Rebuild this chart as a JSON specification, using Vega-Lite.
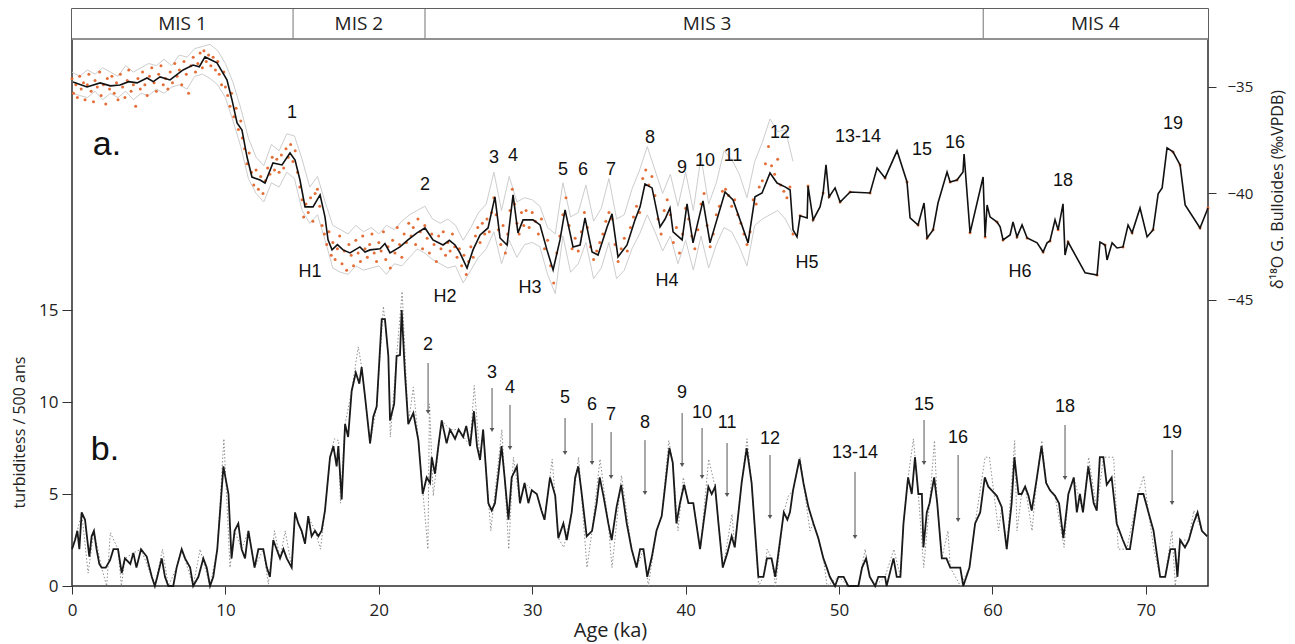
{
"$schema": "https://vega.github.io/schema/vega-lite/v6.json",
"width": 1136, "height": 577,
"autosize": {"type": "none"},
"padding": {"left": 72, "top": 9, "right": 87, "bottom": 58},
"background": "white",
"config": {
 "view": {"stroke": "#2b2b2b", "strokeWidth": 1.5},
 "axis": {"labelFont": "Open Sans", "titleFont": "Open Sans", "titleFontWeight": "normal", "labelColor": "#222", "titleColor": "#222", "tickColor": "#333", "domain": false, "grid": false},
 "text": {"font": "Liberation Sans", "color": "#111"}
},
"datasets": {
 "d18o": [
{"age":0.07,"d18o":-34.77},{"age":0.98,"d18o":-35.0},{"age":1.83,"d18o":-34.81},{"age":2.5,"d18o":-34.95},{"age":3.13,"d18o":-34.91},{"age":3.7,"d18o":-34.75},{"age":4.24,"d18o":-34.81},{"age":4.89,"d18o":-34.58},{"age":5.3,"d18o":-34.75},{"age":5.74,"d18o":-34.53},{"age":6.39,"d18o":-34.67},{"age":7.24,"d18o":-34.2},{"age":7.89,"d18o":-33.97},{"age":8.3,"d18o":-34.05},{"age":8.67,"d18o":-33.59},{"age":9.45,"d18o":-33.87},{"age":10.1,"d18o":-34.67},{"age":10.43,"d18o":-35.61},{"age":10.76,"d18o":-36.69},{"age":11.08,"d18o":-37.02},{"age":11.41,"d18o":-38.29},{"age":11.73,"d18o":-39.23},{"age":12.26,"d18o":-39.37},{"age":12.58,"d18o":-39.51},{"age":13.1,"d18o":-38.57},{"age":13.69,"d18o":-38.66},{"age":14.21,"d18o":-38.1},{"age":14.54,"d18o":-38.43},{"age":14.86,"d18o":-39.37},{"age":15.19,"d18o":-40.63},{"age":15.71,"d18o":-40.63},{"age":16.17,"d18o":-40.07},{"age":16.49,"d18o":-41.1},{"age":16.69,"d18o":-42.18},{"age":16.95,"d18o":-42.65},{"age":17.3,"d18o":-42.4},{"age":17.67,"d18o":-42.65},{"age":18.12,"d18o":-42.79},{"age":18.77,"d18o":-42.51},{"age":19.1,"d18o":-42.75},{"age":19.43,"d18o":-42.65},{"age":20.08,"d18o":-42.6},{"age":20.4,"d18o":-42.35},{"age":20.73,"d18o":-42.79},{"age":21.38,"d18o":-42.51},{"age":21.9,"d18o":-42.18},{"age":22.49,"d18o":-41.85},{"age":23.01,"d18o":-41.62},{"age":23.53,"d18o":-42.18},{"age":24.19,"d18o":-42.42},{"age":24.6,"d18o":-42.2},{"age":24.97,"d18o":-42.42},{"age":25.29,"d18o":-42.79},{"age":25.75,"d18o":-43.5},{"age":26.14,"d18o":-42.65},{"age":26.6,"d18o":-41.95},{"age":27.12,"d18o":-41.62},{"age":27.57,"d18o":-40.16},{"age":27.9,"d18o":-42.09},{"age":28.36,"d18o":-42.42},{"age":28.75,"d18o":-40.07},{"age":29.07,"d18o":-41.85},{"age":29.4,"d18o":-41.24},{"age":30.05,"d18o":-41.24},{"age":30.51,"d18o":-41.48},{"age":30.96,"d18o":-42.65},{"age":31.36,"d18o":-43.59},{"age":31.81,"d18o":-42.18},{"age":32.14,"d18o":-40.77},{"age":32.66,"d18o":-42.51},{"age":33.12,"d18o":-42.42},{"age":33.44,"d18o":-41.15},{"age":33.9,"d18o":-42.75},{"age":34.29,"d18o":-42.89},{"age":34.88,"d18o":-41.57},{"age":35.2,"d18o":-40.96},{"age":35.59,"d18o":-42.98},{"age":36.18,"d18o":-42.42},{"age":36.7,"d18o":-41.24},{"age":37.03,"d18o":-40.63},{"age":37.35,"d18o":-39.56},{"age":37.81,"d18o":-39.74},{"age":38.33,"d18o":-41.57},{"age":38.66,"d18o":-41.2},{"age":38.98,"d18o":-40.68},{"age":39.18,"d18o":-41.8},{"age":39.77,"d18o":-42.18},{"age":40.09,"d18o":-40.49},{"age":40.48,"d18o":-42.32},{"age":41.13,"d18o":-40.35},{"age":41.59,"d18o":-42.32},{"age":42.57,"d18o":-39.93},{"age":43.09,"d18o":-40.31},{"age":44.07,"d18o":-42.32},{"age":44.52,"d18o":-40.16},{"age":44.98,"d18o":-39.98},{"age":45.5,"d18o":-39.04},{"age":45.96,"d18o":-39.51},{"age":46.48,"d18o":-39.69},{"age":46.81,"d18o":-39.84},{"age":47.0,"d18o":-41.71},{"age":47.26,"d18o":-42.04},{"age":47.46,"d18o":-41.05},{"age":47.92,"d18o":-41.15},{"age":47.98,"d18o":-39.65},{"age":48.31,"d18o":-41.24},{"age":48.76,"d18o":-40.63},{"age":48.96,"d18o":-39.98},{"age":49.15,"d18o":-38.66},{"age":49.35,"d18o":-40.16},{"age":49.74,"d18o":-39.74},{"age":50.07,"d18o":-40.4},{"age":50.72,"d18o":-39.93},{"age":52.02,"d18o":-39.98},{"age":52.48,"d18o":-38.8},{"age":53.0,"d18o":-39.27},{"age":53.78,"d18o":-38.0},{"age":54.43,"d18o":-39.46},{"age":54.63,"d18o":-41.15},{"age":55.15,"d18o":-41.48},{"age":55.54,"d18o":-40.45},{"age":55.74,"d18o":-42.09},{"age":56.13,"d18o":-41.71},{"age":56.45,"d18o":-40.45},{"age":57.04,"d18o":-38.99},{"age":57.24,"d18o":-39.46},{"age":57.69,"d18o":-39.37},{"age":58.08,"d18o":-38.99},{"age":58.15,"d18o":-38.15},{"age":58.54,"d18o":-41.85},{"age":59.39,"d18o":-39.23},{"age":59.52,"d18o":-42.04},{"age":59.65,"d18o":-40.54},{"age":59.84,"d18o":-41.1},{"age":60.3,"d18o":-41.34},{"age":60.5,"d18o":-41.57},{"age":60.69,"d18o":-42.18},{"age":61.15,"d18o":-41.95},{"age":61.34,"d18o":-41.34},{"age":61.6,"d18o":-42.04},{"age":61.93,"d18o":-41.48},{"age":62.26,"d18o":-42.09},{"age":62.91,"d18o":-42.32},{"age":63.3,"d18o":-42.75},{"age":63.56,"d18o":-42.32},{"age":63.75,"d18o":-42.23},{"age":64.08,"d18o":-41.24},{"age":64.28,"d18o":-41.71},{"age":64.6,"d18o":-40.49},{"age":64.73,"d18o":-42.89},{"age":64.93,"d18o":-42.28},{"age":66.04,"d18o":-43.73},{"age":66.82,"d18o":-43.83},{"age":67.01,"d18o":-42.28},{"age":67.34,"d18o":-42.42},{"age":67.47,"d18o":-43.12},{"age":67.8,"d18o":-42.32},{"age":68.12,"d18o":-42.56},{"age":68.51,"d18o":-42.51},{"age":68.84,"d18o":-41.48},{"age":69.1,"d18o":-41.85},{"age":69.62,"d18o":-40.68},{"age":70.08,"d18o":-42.04},{"age":70.47,"d18o":-41.71},{"age":70.8,"d18o":-40.02},{"age":71.06,"d18o":-39.74},{"age":71.38,"d18o":-37.86},{"age":71.77,"d18o":-38.05},{"age":72.23,"d18o":-38.66},{"age":72.56,"d18o":-40.54},{"age":73.53,"d18o":-41.62},{"age":74.05,"d18o":-40.68}
 ],
 "dots": [
{"age":0.0,"d18o":-34.6},{"age":0.1,"d18o":-35.3},{"age":0.25,"d18o":-34.9},{"age":0.35,"d18o":-35.5},{"age":0.5,"d18o":-34.5},{"age":0.6,"d18o":-35.1},{"age":0.75,"d18o":-34.8},{"age":0.85,"d18o":-35.6},{"age":1.0,"d18o":-34.9},{"age":1.1,"d18o":-34.4},{"age":1.25,"d18o":-35.2},{"age":1.4,"d18o":-35.7},{"age":1.5,"d18o":-34.7},{"age":1.65,"d18o":-35.0},{"age":1.8,"d18o":-34.3},{"age":1.9,"d18o":-35.4},{"age":2.05,"d18o":-34.9},{"age":2.2,"d18o":-35.8},{"age":2.3,"d18o":-34.6},{"age":2.45,"d18o":-35.1},{"age":2.6,"d18o":-34.5},{"age":2.75,"d18o":-35.3},{"age":2.9,"d18o":-34.8},{"age":3.0,"d18o":-35.6},{"age":3.15,"d18o":-34.4},{"age":3.3,"d18o":-35.0},{"age":3.45,"d18o":-35.5},{"age":3.6,"d18o":-34.7},{"age":3.7,"d18o":-34.2},{"age":3.85,"d18o":-35.2},{"age":4.0,"d18o":-34.9},{"age":4.15,"d18o":-35.9},{"age":4.3,"d18o":-34.6},{"age":4.45,"d18o":-35.1},{"age":4.6,"d18o":-34.3},{"age":4.75,"d18o":-34.9},{"age":4.9,"d18o":-35.4},{"age":5.05,"d18o":-34.5},{"age":5.2,"d18o":-34.1},{"age":5.35,"d18o":-34.8},{"age":5.5,"d18o":-35.2},{"age":5.65,"d18o":-34.4},{"age":5.8,"d18o":-34.0},{"age":5.95,"d18o":-34.9},{"age":6.1,"d18o":-34.6},{"age":6.25,"d18o":-35.1},{"age":6.4,"d18o":-34.3},{"age":6.55,"d18o":-34.8},{"age":6.7,"d18o":-33.9},{"age":6.85,"d18o":-34.5},{"age":7.0,"d18o":-34.2},{"age":7.15,"d18o":-34.9},{"age":7.3,"d18o":-33.8},{"age":7.45,"d18o":-34.4},{"age":7.6,"d18o":-35.3},{"age":7.75,"d18o":-34.0},{"age":7.9,"d18o":-33.6},{"age":8.05,"d18o":-34.3},{"age":8.2,"d18o":-33.9},{"age":8.35,"d18o":-33.4},{"age":8.5,"d18o":-34.1},{"age":8.6,"d18o":-33.3},{"age":8.75,"d18o":-33.8},{"age":8.9,"d18o":-33.5},{"age":9.05,"d18o":-34.0},{"age":9.2,"d18o":-33.6},{"age":9.35,"d18o":-34.2},{"age":9.5,"d18o":-33.8},{"age":9.6,"d18o":-34.4},{"age":9.75,"d18o":-34.9},{"age":9.9,"d18o":-34.3},{"age":10.0,"d18o":-35.0},{"age":10.15,"d18o":-35.4},{"age":10.3,"d18o":-35.9},{"age":10.4,"d18o":-35.3},{"age":10.55,"d18o":-36.4},{"age":10.7,"d18o":-36.0},{"age":10.85,"d18o":-37.0},{"age":11.0,"d18o":-36.6},{"age":11.1,"d18o":-37.4},{"age":11.25,"d18o":-37.9},{"age":11.4,"d18o":-38.6},{"age":11.55,"d18o":-38.1},{"age":11.7,"d18o":-39.0},{"age":11.85,"d18o":-39.6},{"age":12.0,"d18o":-38.9},{"age":12.15,"d18o":-39.8},{"age":12.3,"d18o":-39.2},{"age":12.45,"d18o":-40.0},{"age":12.6,"d18o":-39.4},{"age":12.75,"d18o":-38.8},{"age":12.9,"d18o":-39.1},{"age":13.05,"d18o":-38.3},{"age":13.2,"d18o":-38.9},{"age":13.35,"d18o":-38.4},{"age":13.5,"d18o":-39.0},{"age":13.65,"d18o":-38.2},{"age":13.8,"d18o":-38.8},{"age":13.95,"d18o":-37.9},{"age":14.1,"d18o":-38.3},{"age":14.25,"d18o":-37.7},{"age":14.4,"d18o":-38.5},{"age":14.55,"d18o":-38.0},{"age":14.7,"d18o":-39.0},{"age":14.85,"d18o":-39.7},{"age":15.0,"d18o":-40.3},{"age":15.1,"d18o":-41.1},{"age":15.25,"d18o":-40.5},{"age":15.4,"d18o":-40.9},{"age":15.55,"d18o":-40.2},{"age":15.7,"d18o":-41.3},{"age":15.85,"d18o":-40.0},{"age":16.0,"d18o":-39.8},{"age":16.15,"d18o":-40.6},{"age":16.3,"d18o":-41.5},{"age":16.45,"d18o":-41.9},{"age":16.6,"d18o":-42.4},{"age":16.75,"d18o":-41.8},{"age":16.9,"d18o":-42.9},{"age":17.0,"d18o":-42.3},{"age":17.15,"d18o":-43.1},{"age":17.3,"d18o":-42.6},{"age":17.45,"d18o":-42.0},{"age":17.6,"d18o":-43.3},{"age":17.75,"d18o":-42.7},{"age":17.9,"d18o":-43.6},{"age":18.05,"d18o":-42.4},{"age":18.2,"d18o":-42.9},{"age":18.35,"d18o":-43.4},{"age":18.5,"d18o":-42.2},{"age":18.65,"d18o":-42.8},{"age":18.8,"d18o":-43.2},{"age":18.95,"d18o":-42.0},{"age":19.1,"d18o":-42.6},{"age":19.25,"d18o":-43.0},{"age":19.4,"d18o":-42.4},{"age":19.55,"d18o":-41.9},{"age":19.7,"d18o":-42.8},{"age":19.85,"d18o":-43.2},{"age":20.0,"d18o":-42.3},{"age":20.15,"d18o":-42.7},{"age":20.3,"d18o":-41.8},{"age":20.45,"d18o":-43.1},{"age":20.6,"d18o":-42.5},{"age":20.75,"d18o":-43.5},{"age":20.9,"d18o":-42.2},{"age":21.05,"d18o":-42.8},{"age":21.2,"d18o":-41.6},{"age":21.35,"d18o":-42.4},{"age":21.5,"d18o":-43.0},{"age":21.65,"d18o":-41.9},{"age":21.8,"d18o":-42.3},{"age":21.95,"d18o":-41.4},{"age":22.1,"d18o":-42.0},{"age":22.25,"d18o":-41.6},{"age":22.4,"d18o":-42.4},{"age":22.55,"d18o":-41.2},{"age":22.7,"d18o":-41.8},{"age":22.85,"d18o":-42.6},{"age":23.0,"d18o":-41.5},{"age":23.15,"d18o":-42.1},{"age":23.3,"d18o":-42.8},{"age":23.45,"d18o":-41.9},{"age":23.6,"d18o":-42.4},{"age":23.75,"d18o":-43.2},{"age":23.9,"d18o":-42.0},{"age":24.05,"d18o":-42.6},{"age":24.2,"d18o":-41.8},{"age":24.35,"d18o":-42.9},{"age":24.5,"d18o":-42.3},{"age":24.65,"d18o":-42.7},{"age":24.8,"d18o":-41.9},{"age":24.95,"d18o":-42.5},{"age":25.1,"d18o":-43.0},{"age":25.25,"d18o":-42.6},{"age":25.4,"d18o":-43.4},{"age":25.55,"d18o":-42.9},{"age":25.7,"d18o":-43.8},{"age":25.85,"d18o":-43.2},{"age":26.0,"d18o":-42.5},{"age":26.15,"d18o":-43.0},{"age":26.3,"d18o":-42.0},{"age":26.45,"d18o":-41.6},{"age":26.6,"d18o":-42.3},{"age":26.75,"d18o":-41.4},{"age":26.9,"d18o":-41.9},{"age":27.05,"d18o":-41.2},{"age":27.2,"d18o":-41.8},{"age":27.35,"d18o":-40.9},{"age":27.5,"d18o":-40.2},{"age":27.65,"d18o":-41.0},{"age":27.8,"d18o":-41.7},{"age":27.95,"d18o":-42.4},{"age":28.1,"d18o":-41.5},{"age":28.25,"d18o":-42.8},{"age":28.4,"d18o":-41.9},{"age":28.55,"d18o":-40.8},{"age":28.7,"d18o":-39.8},{"age":28.85,"d18o":-40.5},{"age":29.0,"d18o":-41.4},{"age":29.15,"d18o":-41.9},{"age":29.3,"d18o":-40.9},{"age":29.45,"d18o":-41.5},{"age":29.6,"d18o":-40.8},{"age":29.8,"d18o":-41.6},{"age":30.0,"d18o":-40.9},{"age":30.2,"d18o":-41.3},{"age":30.4,"d18o":-41.9},{"age":30.6,"d18o":-41.2},{"age":30.8,"d18o":-42.6},{"age":31.0,"d18o":-42.2},{"age":31.2,"d18o":-43.4},{"age":31.4,"d18o":-44.2},{"age":31.6,"d18o":-42.8},{"age":31.8,"d18o":-42.0},{"age":32.0,"d18o":-41.0},{"age":32.2,"d18o":-40.2},{"age":32.4,"d18o":-41.5},{"age":32.6,"d18o":-42.6},{"age":32.8,"d18o":-42.1},{"age":33.0,"d18o":-42.7},{"age":33.2,"d18o":-41.8},{"age":33.4,"d18o":-40.9},{"age":33.6,"d18o":-41.6},{"age":33.8,"d18o":-42.5},{"age":34.0,"d18o":-43.1},{"age":34.2,"d18o":-42.7},{"age":34.4,"d18o":-42.3},{"age":34.6,"d18o":-41.9},{"age":34.8,"d18o":-41.3},{"age":35.0,"d18o":-40.9},{"age":35.2,"d18o":-41.2},{"age":35.4,"d18o":-42.4},{"age":35.6,"d18o":-43.2},{"age":35.8,"d18o":-42.6},{"age":36.0,"d18o":-42.1},{"age":36.2,"d18o":-42.7},{"age":36.4,"d18o":-41.6},{"age":36.6,"d18o":-41.1},{"age":36.8,"d18o":-40.6},{"age":37.0,"d18o":-40.9},{"age":37.2,"d18o":-39.3},{"age":37.4,"d18o":-38.9},{"age":37.6,"d18o":-39.6},{"age":37.8,"d18o":-39.2},{"age":38.0,"d18o":-40.1},{"age":38.2,"d18o":-41.2},{"age":38.4,"d18o":-41.9},{"age":38.6,"d18o":-40.8},{"age":38.8,"d18o":-40.3},{"age":39.0,"d18o":-41.0},{"age":39.2,"d18o":-42.3},{"age":39.4,"d18o":-41.6},{"age":39.6,"d18o":-42.8},{"age":39.8,"d18o":-41.9},{"age":40.0,"d18o":-40.7},{"age":40.2,"d18o":-41.2},{"age":40.4,"d18o":-42.0},{"age":40.6,"d18o":-42.6},{"age":40.8,"d18o":-41.7},{"age":41.0,"d18o":-40.5},{"age":41.2,"d18o":-40.0},{"age":41.4,"d18o":-41.5},{"age":41.6,"d18o":-42.5},{"age":41.8,"d18o":-41.9},{"age":42.0,"d18o":-41.0},{"age":42.2,"d18o":-40.6},{"age":42.4,"d18o":-39.9},{"age":42.6,"d18o":-39.8},{"age":42.8,"d18o":-40.1},{"age":43.0,"d18o":-40.6},{"age":43.2,"d18o":-40.3},{"age":43.4,"d18o":-41.0},{"age":43.6,"d18o":-41.4},{"age":43.8,"d18o":-41.9},{"age":44.0,"d18o":-42.4},{"age":44.2,"d18o":-41.8},{"age":44.4,"d18o":-40.3},{"age":44.6,"d18o":-40.5},{"age":44.8,"d18o":-39.7},{"age":45.0,"d18o":-39.4},{"age":45.2,"d18o":-38.6},{"age":45.4,"d18o":-37.8},{"age":45.6,"d18o":-38.7},{"age":45.8,"d18o":-39.1},{"age":46.0,"d18o":-38.4},{"age":46.2,"d18o":-39.6},{"age":46.4,"d18o":-39.9},{"age":46.6,"d18o":-40.2},{"age":46.8,"d18o":-39.7},{"age":47.0,"d18o":-41.9},
{"age":47.46,"d18o":-41.05},{"age":47.98,"d18o":-39.65},{"age":48.31,"d18o":-41.24},{"age":48.96,"d18o":-39.98},{"age":49.35,"d18o":-40.16},{"age":50.07,"d18o":-40.4},{"age":50.72,"d18o":-39.93},{"age":52.02,"d18o":-39.98},{"age":53.0,"d18o":-39.27},{"age":54.43,"d18o":-39.46},{"age":55.15,"d18o":-41.48},{"age":55.74,"d18o":-42.09},{"age":56.13,"d18o":-41.71},{"age":57.24,"d18o":-39.46},{"age":57.69,"d18o":-39.37},{"age":58.54,"d18o":-41.85},{"age":59.52,"d18o":-42.04},{"age":60.3,"d18o":-41.34},{"age":60.69,"d18o":-42.18},{"age":61.6,"d18o":-42.04},{"age":62.26,"d18o":-42.09},{"age":63.3,"d18o":-42.75},{"age":63.75,"d18o":-42.23},{"age":64.28,"d18o":-41.71},{"age":64.93,"d18o":-42.28},{"age":66.82,"d18o":-43.83},{"age":67.34,"d18o":-42.42},{"age":68.51,"d18o":-42.51},{"age":69.1,"d18o":-41.85},{"age":70.47,"d18o":-41.71},{"age":71.77,"d18o":-38.05},{"age":72.23,"d18o":-38.66},{"age":73.53,"d18o":-41.62},{"age":74.05,"d18o":-40.68}
 ],
 "env": [
{"age":0,"up":-34.3,"lo":-35.3},{"age":0.5,"up":-34.5,"lo":-35.4},{"age":1,"up":-34.2,"lo":-35.5},{"age":1.5,"up":-34.4,"lo":-35.2},{"age":2,"up":-34.1,"lo":-35.6},{"age":2.5,"up":-34.3,"lo":-35.3},{"age":3,"up":-34.5,"lo":-35.5},{"age":3.5,"up":-34.0,"lo":-35.2},{"age":4,"up":-34.3,"lo":-35.6},{"age":4.5,"up":-34.1,"lo":-35.3},{"age":5,"up":-33.9,"lo":-35.4},{"age":5.5,"up":-34.0,"lo":-35.1},{"age":6,"up":-33.7,"lo":-35.3},{"age":6.5,"up":-34.0,"lo":-35.0},{"age":7,"up":-33.5,"lo":-34.9},{"age":7.5,"up":-33.6,"lo":-35.1},{"age":8,"up":-33.2,"lo":-34.5},{"age":8.5,"up":-33.1,"lo":-34.4},{"age":9,"up":-33.0,"lo":-34.6},{"age":9.5,"up":-33.3,"lo":-34.9},{"age":10,"up":-33.9,"lo":-35.5},{"age":10.5,"up":-34.8,"lo":-36.6},{"age":11,"up":-36.0,"lo":-37.8},{"age":11.5,"up":-37.4,"lo":-39.3},{"age":12,"up":-38.3,"lo":-40.0},{"age":12.5,"up":-38.7,"lo":-40.4},{"age":13,"up":-37.7,"lo":-39.5},{"age":13.5,"up":-38.0,"lo":-39.7},{"age":14,"up":-37.2,"lo":-39.0},{"age":14.5,"up":-37.3,"lo":-39.3},{"age":15,"up":-38.4,"lo":-40.8},{"age":15.5,"up":-39.7,"lo":-41.4},{"age":16,"up":-39.2,"lo":-41.0},{"age":16.5,"up":-40.4,"lo":-42.2},{"age":17,"up":-41.5,"lo":-43.5},{"age":17.5,"up":-41.7,"lo":-43.7},{"age":18,"up":-41.9,"lo":-43.8},{"age":18.5,"up":-41.5,"lo":-43.4},{"age":19,"up":-41.8,"lo":-43.6},{"age":19.5,"up":-41.6,"lo":-43.5},{"age":20,"up":-41.9,"lo":-43.4},{"age":20.5,"up":-41.5,"lo":-43.8},{"age":21,"up":-41.7,"lo":-43.3},{"age":21.5,"up":-41.3,"lo":-43.4},{"age":22,"up":-41.0,"lo":-43.0},{"age":22.5,"up":-40.8,"lo":-42.6},{"age":23,"up":-40.6,"lo":-42.8},{"age":23.5,"up":-41.2,"lo":-43.1},{"age":24,"up":-41.4,"lo":-43.3},{"age":24.5,"up":-41.2,"lo":-43.5},{"age":25,"up":-41.5,"lo":-43.4},{"age":25.5,"up":-42.2,"lo":-44.2},{"age":26,"up":-41.6,"lo":-43.6},{"age":26.5,"up":-40.9,"lo":-43.0},{"age":27,"up":-40.5,"lo":-42.6},{"age":27.5,"up":-39.0,"lo":-41.8},{"age":28,"up":-40.8,"lo":-43.3},{"age":28.5,"up":-39.2,"lo":-42.2},{"age":29,"up":-40.4,"lo":-43.0},{"age":29.5,"up":-40.2,"lo":-42.4},{"age":30,"up":-40.3,"lo":-42.3},{"age":30.5,"up":-40.6,"lo":-42.5},{"age":31,"up":-41.6,"lo":-43.8},{"age":31.5,"up":-41.9,"lo":-44.7},{"age":32,"up":-39.5,"lo":-42.0},{"age":32.5,"up":-41.1,"lo":-43.7},{"age":33,"up":-40.9,"lo":-43.3},{"age":33.5,"up":-39.6,"lo":-42.3},{"age":34,"up":-41.3,"lo":-44.0},{"age":34.5,"up":-40.7,"lo":-43.5},{"age":35,"up":-39.3,"lo":-42.3},{"age":35.5,"up":-41.2,"lo":-44.0},{"age":36,"up":-41.0,"lo":-43.6},{"age":36.5,"up":-39.8,"lo":-42.6},{"age":37,"up":-38.9,"lo":-41.9},{"age":37.5,"up":-37.8,"lo":-41.0},{"age":38,"up":-38.9,"lo":-41.8},{"age":38.5,"up":-40.0,"lo":-42.7},{"age":39,"up":-39.1,"lo":-42.0},{"age":39.5,"up":-40.6,"lo":-43.3},{"age":40,"up":-39.0,"lo":-42.2},{"age":40.5,"up":-40.8,"lo":-43.6},{"age":41,"up":-38.3,"lo":-42.0},{"age":41.5,"up":-40.5,"lo":-43.5},{"age":42,"up":-39.5,"lo":-42.4},{"age":42.5,"up":-38.0,"lo":-41.6},{"age":43,"up":-38.4,"lo":-41.8},{"age":43.5,"up":-39.1,"lo":-42.5},{"age":44,"up":-40.2,"lo":-43.4},{"age":44.5,"up":-38.5,"lo":-41.5},{"age":45,"up":-37.6,"lo":-41.2},{"age":45.5,"up":-36.5,"lo":-41.0},{"age":46,"up":-37.1,"lo":-40.8},{"age":46.5,"up":-37.0,"lo":-41.2},{"age":47,"up":-38.5,"lo":-41.9}
 ],
 "turb": [
{"age":0,"n":2},{"age":0.2,"n":2.5},{"age":0.35,"n":3},{"age":0.48,"n":2},{"age":0.63,"n":4},{"age":0.85,"n":3.6},{"age":1.0,"n":2.5},{"age":1.13,"n":1.6},{"age":1.28,"n":2.7},{"age":1.43,"n":3},{"age":1.6,"n":2},{"age":1.78,"n":1.2},{"age":1.93,"n":1},{"age":2.2,"n":1},{"age":2.48,"n":1.4},{"age":2.7,"n":2},{"age":3.0,"n":2},{"age":3.24,"n":0.7},{"age":3.45,"n":1.5},{"age":3.8,"n":1.2},{"age":4.0,"n":1.8},{"age":4.2,"n":1},{"age":4.5,"n":2},{"age":4.87,"n":1.6},{"age":5.2,"n":0.5},{"age":5.4,"n":0},{"age":5.56,"n":0.5},{"age":5.85,"n":1.5},{"age":6.06,"n":0.5},{"age":6.28,"n":0},{"age":6.6,"n":0},{"age":6.82,"n":1},{"age":7.15,"n":2},{"age":7.37,"n":1.5},{"age":7.7,"n":1},{"age":7.9,"n":0},{"age":8.24,"n":0.5},{"age":8.56,"n":1.5},{"age":8.78,"n":1},{"age":9.0,"n":0},{"age":9.21,"n":0.5},{"age":9.47,"n":2},{"age":9.87,"n":6.5},{"age":10.2,"n":5},{"age":10.4,"n":1.5},{"age":10.6,"n":3},{"age":10.84,"n":3.4},{"age":11.06,"n":2},{"age":11.28,"n":1.5},{"age":11.5,"n":3},{"age":11.7,"n":2},{"age":11.9,"n":1},{"age":12.15,"n":2},{"age":12.47,"n":2},{"age":12.7,"n":1},{"age":12.9,"n":0.5},{"age":13.12,"n":2.5},{"age":13.34,"n":2},{"age":13.56,"n":1.5},{"age":13.78,"n":2},{"age":14.0,"n":1.5},{"age":14.32,"n":1},{"age":14.54,"n":4},{"age":14.75,"n":3.4},{"age":14.97,"n":3},{"age":15.19,"n":2.3},{"age":15.4,"n":3.8},{"age":15.62,"n":2.7},{"age":15.84,"n":3},{"age":16.06,"n":2.7},{"age":16.27,"n":3},{"age":16.49,"n":4.1},{"age":16.82,"n":7},{"age":17.04,"n":7.6},{"age":17.25,"n":6.5},{"age":17.36,"n":7.6},{"age":17.58,"n":4.7},{"age":17.8,"n":8.8},{"age":18.0,"n":8.1},{"age":18.23,"n":10.6},{"age":18.5,"n":11.6},{"age":18.73,"n":11},{"age":18.88,"n":11.9},{"age":19.1,"n":10.3},{"age":19.43,"n":7.75},{"age":19.64,"n":9.2},{"age":19.86,"n":9.75},{"age":20.19,"n":14.5},{"age":20.4,"n":14.5},{"age":20.62,"n":12.5},{"age":20.73,"n":9},{"age":21.0,"n":9.9},{"age":21.16,"n":12.5},{"age":21.38,"n":12.55},{"age":21.49,"n":15},{"age":21.7,"n":11.6},{"age":21.92,"n":8.8},{"age":22.25,"n":9.4},{"age":22.58,"n":7.9},{"age":22.86,"n":5},{"age":23.12,"n":5.9},{"age":23.34,"n":5.6},{"age":23.45,"n":7},{"age":23.66,"n":6.1},{"age":23.88,"n":7.6},{"age":24.1,"n":9},{"age":24.42,"n":7.75},{"age":24.64,"n":8.5},{"age":24.97,"n":8},{"age":25.2,"n":8.5},{"age":25.5,"n":8.1},{"age":25.7,"n":8.7},{"age":25.95,"n":7.6},{"age":26.2,"n":9.5},{"age":26.4,"n":7.6},{"age":26.6,"n":6.85},{"age":26.8,"n":8.5},{"age":27.14,"n":4.5},{"age":27.36,"n":4.1},{"age":27.57,"n":4.5},{"age":27.8,"n":6.1},{"age":28.0,"n":7.6},{"age":28.2,"n":5.9},{"age":28.45,"n":3.6},{"age":28.66,"n":5.9},{"age":29.0,"n":6.5},{"age":29.2,"n":4.5},{"age":29.5,"n":5.6},{"age":29.75,"n":4.5},{"age":29.97,"n":5.2},{"age":30.3,"n":5},{"age":30.6,"n":4.1},{"age":30.8,"n":3.6},{"age":31.16,"n":5.9},{"age":31.5,"n":4.9},{"age":31.7,"n":2.6},{"age":32.03,"n":3.4},{"age":32.25,"n":2.5},{"age":32.57,"n":4},{"age":32.8,"n":5.9},{"age":33.0,"n":6.5},{"age":33.2,"n":5.2},{"age":33.55,"n":2.7},{"age":33.9,"n":3},{"age":34.2,"n":4.5},{"age":34.4,"n":5.9},{"age":34.64,"n":4.9},{"age":34.96,"n":3.4},{"age":35.18,"n":2.5},{"age":35.5,"n":4.3},{"age":35.8,"n":5.5},{"age":36.16,"n":3.4},{"age":36.48,"n":2},{"age":36.8,"n":1},{"age":37.03,"n":2},{"age":37.25,"n":2},{"age":37.5,"n":0.5},{"age":37.8,"n":1.6},{"age":38.1,"n":3},{"age":38.44,"n":3.8},{"age":38.66,"n":5.4},{"age":38.94,"n":7.5},{"age":39.16,"n":6.7},{"age":39.4,"n":3.4},{"age":39.63,"n":4.5},{"age":39.9,"n":5.5},{"age":40.18,"n":4.5},{"age":40.5,"n":4.5},{"age":40.94,"n":2},{"age":41.16,"n":3.4},{"age":41.48,"n":5.4},{"age":41.7,"n":5},{"age":41.92,"n":5.4},{"age":42.14,"n":3.4},{"age":42.42,"n":1},{"age":42.72,"n":1.8},{"age":43.0,"n":2.7},{"age":43.2,"n":2.1},{"age":43.65,"n":5.6},{"age":43.98,"n":7.5},{"age":44.3,"n":5.6},{"age":44.74,"n":0.5},{"age":45.07,"n":0.5},{"age":45.3,"n":1.5},{"age":45.6,"n":1.5},{"age":45.84,"n":0.5},{"age":46.4,"n":4},{"age":46.63,"n":3.6},{"age":46.8,"n":4},{"age":47.0,"n":5.2},{"age":47.42,"n":6.9},{"age":47.68,"n":5.6},{"age":48.0,"n":4.3},{"age":48.33,"n":3.4},{"age":48.65,"n":2.6},{"age":48.98,"n":1.5},{"age":49.2,"n":1},{"age":49.4,"n":0.5},{"age":49.74,"n":0},{"age":49.96,"n":0.5},{"age":50.3,"n":0.5},{"age":50.6,"n":0},{"age":51.26,"n":0},{"age":51.5,"n":1},{"age":51.76,"n":1.5},{"age":52.0,"n":0.5},{"age":52.35,"n":0},{"age":52.56,"n":0.5},{"age":53.0,"n":0.5},{"age":53.1,"n":0},{"age":53.4,"n":1},{"age":53.55,"n":1.5},{"age":53.76,"n":0.5},{"age":54.0,"n":0.5},{"age":54.2,"n":3.4},{"age":54.5,"n":5.9},{"age":54.74,"n":5},{"age":54.95,"n":7},{"age":55.17,"n":5},{"age":55.4,"n":5},{"age":55.5,"n":2.1},{"age":55.72,"n":4},{"age":55.9,"n":4.5},{"age":56.2,"n":5.9},{"age":56.4,"n":4.5},{"age":56.7,"n":1.5},{"age":57.0,"n":1.5},{"age":57.25,"n":1},{"age":57.9,"n":1},{"age":58.1,"n":0},{"age":58.5,"n":1},{"age":58.87,"n":3.4},{"age":59.2,"n":4},{"age":59.5,"n":5.9},{"age":59.73,"n":5.4},{"age":59.95,"n":5.2},{"age":60.28,"n":4.9},{"age":60.6,"n":4.3},{"age":60.93,"n":2},{"age":61.25,"n":4.5},{"age":61.43,"n":7},{"age":61.7,"n":5},{"age":61.9,"n":5},{"age":62.13,"n":5.4},{"age":62.35,"n":4.9},{"age":62.56,"n":4.1},{"age":62.9,"n":5.9},{"age":63.2,"n":7.6},{"age":63.5,"n":5.6},{"age":63.75,"n":5.2},{"age":64.08,"n":4.9},{"age":64.34,"n":4.5},{"age":64.62,"n":2.6},{"age":64.95,"n":5},{"age":65.3,"n":5.9},{"age":65.5,"n":4},{"age":65.7,"n":5},{"age":65.9,"n":4},{"age":66.25,"n":6.5},{"age":66.6,"n":4.5},{"age":66.8,"n":4.1},{"age":67.0,"n":7},{"age":67.23,"n":7},{"age":67.45,"n":5.5},{"age":67.77,"n":5.9},{"age":68.1,"n":3.4},{"age":68.5,"n":2.5},{"age":68.75,"n":2},{"age":68.96,"n":2},{"age":69.5,"n":5},{"age":69.84,"n":5},{"age":70.17,"n":4},{"age":70.5,"n":3},{"age":70.93,"n":0.5},{"age":71.26,"n":0.5},{"age":71.6,"n":2},{"age":71.9,"n":2},{"age":72.06,"n":0.5},{"age":72.23,"n":2.5},{"age":72.55,"n":2.1},{"age":72.8,"n":2.5},{"age":73.1,"n":3.4},{"age":73.37,"n":4},{"age":73.65,"n":3},{"age":74.0,"n":2.7}
 ],
 "turbdot": [
{"age":0,"n":2},{"age":0.35,"n":3},{"age":0.63,"n":4},{"age":1.05,"n":0.7},{"age":1.43,"n":3},{"age":1.93,"n":1},{"age":2.26,"n":0},{"age":2.5,"n":2.9},{"age":3.0,"n":2},{"age":3.22,"n":0},{"age":3.45,"n":1.5},{"age":4.0,"n":1.8},{"age":4.5,"n":2},{"age":5.2,"n":0.5},{"age":5.4,"n":0},{"age":5.9,"n":2},{"age":6.28,"n":0},{"age":6.82,"n":1},{"age":7.15,"n":2},{"age":7.9,"n":0},{"age":8.35,"n":2},{"age":9.0,"n":0},{"age":9.47,"n":2},{"age":9.9,"n":8},{"age":10.3,"n":1},{"age":10.6,"n":3},{"age":11.06,"n":2},{"age":11.5,"n":3},{"age":11.9,"n":1},{"age":12.47,"n":2},{"age":12.8,"n":0.1},{"age":13.2,"n":3},{"age":13.56,"n":1.5},{"age":13.9,"n":3},{"age":14.32,"n":1},{"age":14.54,"n":4},{"age":15.19,"n":2.3},{"age":15.4,"n":3.8},{"age":15.84,"n":3},{"age":16.2,"n":2},{"age":16.49,"n":4.1},{"age":16.82,"n":7},{"age":17.1,"n":8},{"age":17.38,"n":7.9},{"age":17.5,"n":4.5},{"age":17.8,"n":8.8},{"age":18.23,"n":10.6},{"age":18.66,"n":13},{"age":18.88,"n":11.9},{"age":19.1,"n":10.3},{"age":19.43,"n":7.75},{"age":19.86,"n":9.75},{"age":20.3,"n":15.2},{"age":20.62,"n":12.5},{"age":20.75,"n":8.1},{"age":21.16,"n":12.5},{"age":21.52,"n":16},{"age":21.92,"n":8.8},{"age":22.25,"n":10.8},{"age":22.58,"n":7.9},{"age":23.2,"n":2},{"age":23.3,"n":9.9},{"age":23.55,"n":4.9},{"age":24.1,"n":9},{"age":24.64,"n":8.5},{"age":25.2,"n":8.5},{"age":25.95,"n":7.6},{"age":26.22,"n":10.9},{"age":26.6,"n":6.85},{"age":26.8,"n":8.5},{"age":27.3,"n":3},{"age":28.02,"n":8.5},{"age":28.47,"n":2},{"age":28.77,"n":7},{"age":29.2,"n":4.5},{"age":29.5,"n":5.6},{"age":30.3,"n":5},{"age":30.8,"n":3.6},{"age":31.3,"n":6.9},{"age":31.7,"n":2.6},{"age":32.05,"n":2.1},{"age":32.57,"n":4},{"age":33.02,"n":7},{"age":33.57,"n":1},{"age":33.9,"n":3},{"age":34.42,"n":6.9},{"age":34.96,"n":3.4},{"age":35.2,"n":1},{"age":35.82,"n":6},{"age":36.48,"n":2},{"age":36.8,"n":1},{"age":37.25,"n":2},{"age":37.57,"n":0},{"age":38.1,"n":3},{"age":38.44,"n":3.8},{"age":38.9,"n":7.9},{"age":39.16,"n":6.7},{"age":39.5,"n":3},{"age":39.85,"n":5.9},{"age":40.18,"n":4.5},{"age":40.5,"n":4.5},{"age":40.96,"n":2},{"age":41.5,"n":6.9},{"age":41.92,"n":5.4},{"age":42.14,"n":3.4},{"age":42.45,"n":1},{"age":43.02,"n":3.9},{"age":43.2,"n":2.1},{"age":43.65,"n":5.6},{"age":44.0,"n":8},{"age":44.3,"n":5.6},{"age":44.76,"n":0},{"age":45.07,"n":0.5},{"age":45.32,"n":2},{"age":45.6,"n":1.5},{"age":45.86,"n":0},{"age":46.4,"n":4},{"age":46.7,"n":4.9},{"age":47.0,"n":5.2},{"age":47.46,"n":7},{"age":47.68,"n":5.6},{"age":48.1,"n":3},{"age":48.33,"n":3.4},{"age":48.65,"n":2.6},{"age":48.98,"n":1.5},{"age":49.22,"n":0},{"age":49.96,"n":0.5},{"age":50.6,"n":0},{"age":51.26,"n":0},{"age":51.7,"n":2},{"age":52.0,"n":0.5},{"age":52.35,"n":0},{"age":53.0,"n":0.5},{"age":53.57,"n":2},{"age":54.0,"n":0.5},{"age":54.2,"n":3.4},{"age":54.5,"n":5.9},{"age":54.85,"n":8},{"age":55.17,"n":5},{"age":55.52,"n":1},{"age":55.9,"n":4.5},{"age":56.22,"n":7.9},{"age":56.4,"n":4.5},{"age":56.7,"n":1.5},{"age":57.1,"n":3},{"age":57.25,"n":1},{"age":57.92,"n":0},{"age":58.5,"n":1},{"age":58.87,"n":3.4},{"age":59.52,"n":7},{"age":59.8,"n":7},{"age":60.4,"n":3},{"age":60.6,"n":4.3},{"age":60.93,"n":2},{"age":61.45,"n":7.9},{"age":61.6,"n":3},{"age":61.9,"n":5},{"age":62.13,"n":5.4},{"age":62.58,"n":3},{"age":62.9,"n":5.9},{"age":63.22,"n":7.9},{"age":63.5,"n":5.6},{"age":64.08,"n":4.9},{"age":64.67,"n":2.1},{"age":64.95,"n":5},{"age":65.3,"n":5.9},{"age":65.9,"n":4},{"age":66.27,"n":7},{"age":66.8,"n":4.1},{"age":67.23,"n":7},{"age":67.9,"n":7},{"age":68.2,"n":2},{"age":68.75,"n":2},{"age":69.5,"n":5},{"age":69.86,"n":6},{"age":70.17,"n":4},{"age":70.52,"n":2},{"age":70.93,"n":0.5},{"age":71.26,"n":0.5},{"age":71.7,"n":3},{"age":71.92,"n":0},{"age":72.23,"n":2.5},{"age":72.8,"n":2.5},{"age":73.12,"n":4.1},{"age":73.65,"n":3},{"age":74.0,"n":2.7}
 ],
 "labelsA": [
{"t":"1","age":14.34,"d18o":-36.22},{"t":"2","age":23.01,"d18o":-39.6},{"t":"3","age":27.51,"d18o":-38.33},{"t":"4","age":28.75,"d18o":-38.24},{"t":"5","age":32.01,"d18o":-38.9},{"t":"6","age":33.31,"d18o":-38.9},{"t":"7","age":35.14,"d18o":-38.9},{"t":"8","age":37.68,"d18o":-37.39},{"t":"9","age":39.77,"d18o":-38.8},{"t":"10","age":41.26,"d18o":-38.47},{"t":"11","age":43.09,"d18o":-38.24},{"t":"12","age":46.15,"d18o":-37.16},{"t":"13-14","age":51.24,"d18o":-37.35},{"t":"15","age":55.41,"d18o":-37.96},{"t":"16","age":57.56,"d18o":-37.63},{"t":"18","age":64.6,"d18o":-39.41},{"t":"19","age":71.77,"d18o":-36.74},{"t":"H1","age":15.51,"d18o":-43.69},{"t":"H2","age":24.32,"d18o":-44.86},{"t":"H3","age":29.86,"d18o":-44.44},{"t":"H4","age":38.79,"d18o":-44.11},{"t":"H5","age":47.91,"d18o":-43.26},{"t":"H6","age":61.8,"d18o":-43.69}
 ],
 "panelA": [{"t":"a.","age":2.28,"d18o":-37.72}],
 "panelB": [{"t":"b.","age":2.15,"n":7.39}],
 "arrows": [
{"t":"2","age":23.21,"top":12.12,"bot":9.46,"ly":13.1},{"t":"3","age":27.38,"top":10.76,"bot":8.48,"ly":11.58},{"t":"4","age":28.55,"top":9.84,"bot":7.5,"ly":10.76},{"t":"5","age":32.14,"top":9.13,"bot":7.23,"ly":10.22},{"t":"6","age":33.9,"top":8.86,"bot":6.68,"ly":9.84},{"t":"7","age":35.14,"top":8.37,"bot":5.92,"ly":9.29},{"t":"8","age":37.35,"top":7.93,"bot":5.05,"ly":8.86},{"t":"9","age":39.77,"top":9.4,"bot":6.58,"ly":10.49},{"t":"10","age":41.07,"top":8.59,"bot":5.92,"ly":9.4},{"t":"11","age":42.7,"top":7.77,"bot":4.95,"ly":8.86},{"t":"12","age":45.5,"top":7.12,"bot":3.75,"ly":7.99},{"t":"13-14","age":51.04,"top":6.2,"bot":2.66,"ly":7.23},{"t":"15","age":55.54,"top":9.02,"bot":6.68,"ly":9.84},{"t":"16","age":57.76,"top":7.12,"bot":3.59,"ly":8.04},{"t":"18","age":64.73,"top":8.75,"bot":5.87,"ly":9.73},{"t":"19","age":71.71,"top":7.39,"bot":4.51,"ly":8.32}
 ],
 "mis": [
{"label":"MIS 1","age":0,"age2":14.41,"mid":7.2},{"label":"MIS 2","age":14.41,"age2":23.01,"mid":18.7},{"label":"MIS 3","age":23.01,"age2":59.4,"mid":41.4},{"label":"MIS 4","age":59.4,"age2":74.05,"mid":66.7}
 ]
},
"layer": [
 {"data": {"name": "env"}, "mark": {"type": "line", "color": "#cdcdcd", "strokeWidth": 1},
  "encoding": {
   "x": {"field": "age", "type": "quantitative", "scale": {"domain": [0, 74.05], "nice": false, "zero": false},
     "axis": {"values": [0,10,20,30,40,50,60,70], "tickSize": 8, "labelPadding": 8, "labelFontSize": 17, "labelFlush": false, "title": "Age (ka)", "titleFontSize": 20, "titleX": 538, "titleY": 44, "titleAlign": "center", "titleBaseline": "middle"}},
   "y": {"field": "up", "type": "quantitative", "scale": {"domain": [-58.43, -31.34], "nice": false, "zero": false},
     "axis": {"orient": "right", "values": [-35,-40,-45], "tickSize": 8, "labelPadding": 11, "labelFontSize": 15, "title": "δ¹⁸O G. Bulloides (‰VPDB)", "titleFontSize": 16, "titleAngle": 270, "titleX": 69, "titleY": 180, "titleAlign": "center", "titleBaseline": "middle"}}
  }},
 {"data": {"name": "env"}, "mark": {"type": "line", "color": "#cdcdcd", "strokeWidth": 1},
  "encoding": {
   "x": {"field": "age", "type": "quantitative"},
   "y": {"field": "lo", "type": "quantitative", "scale": {"domain": [-58.43, -31.34], "nice": false, "zero": false}, "axis": null}
  }},
 {"data": {"name": "dots"}, "mark": {"type": "point", "filled": true, "color": "#e2662c", "size": 9, "opacity": 0.95},
  "encoding": {
   "x": {"field": "age", "type": "quantitative"},
   "y": {"field": "d18o", "type": "quantitative", "scale": {"domain": [-58.43, -31.34], "nice": false, "zero": false}, "axis": null}
  }},
 {"data": {"name": "d18o"}, "mark": {"type": "line", "color": "#111111", "strokeWidth": 1.6},
  "encoding": {
   "x": {"field": "age", "type": "quantitative"},
   "y": {"field": "d18o", "type": "quantitative", "scale": {"domain": [-58.43, -31.34], "nice": false, "zero": false}, "axis": null}
  }},
 {"data": {"name": "labelsA"}, "mark": {"type": "text", "fontSize": 18, "align": "center", "baseline": "middle"},
  "encoding": {
   "x": {"field": "age", "type": "quantitative"},
   "y": {"field": "d18o", "type": "quantitative", "scale": {"domain": [-58.43, -31.34], "nice": false, "zero": false}, "axis": null},
   "text": {"field": "t"}
  }},
 {"data": {"name": "panelA"}, "mark": {"type": "text", "fontSize": 34, "align": "center", "baseline": "middle"},
  "encoding": {
   "x": {"field": "age", "type": "quantitative"},
   "y": {"field": "d18o", "type": "quantitative", "scale": {"domain": [-58.43, -31.34], "nice": false, "zero": false}, "axis": null},
   "text": {"field": "t"}
  }},
 {"data": {"name": "turbdot"}, "mark": {"type": "line", "color": "#8f8f8f", "strokeWidth": 1, "strokeDash": [1.5, 2]},
  "encoding": {
   "x": {"field": "age", "type": "quantitative"},
   "y": {"field": "n", "type": "quantitative", "scale": {"domain": [0, 31.36], "nice": false, "zero": false},
     "axis": {"orient": "left", "values": [0,5,10,15], "tickSize": 10, "labelPadding": 4, "labelFontSize": 17, "title": "turbiditess / 500 ans", "titleFontSize": 16, "titleAngle": 270, "titleX": -53, "titleY": 423, "titleAlign": "center", "titleBaseline": "middle"}}
  }},
 {"data": {"name": "turb"}, "mark": {"type": "line", "color": "#1a1a1a", "strokeWidth": 1.8},
  "encoding": {
   "x": {"field": "age", "type": "quantitative"},
   "y": {"field": "n", "type": "quantitative", "scale": {"domain": [0, 31.36], "nice": false, "zero": false}, "axis": null}
  }},
 {"data": {"name": "arrows"}, "mark": {"type": "rule", "color": "#555555", "strokeWidth": 1},
  "encoding": {
   "x": {"field": "age", "type": "quantitative"},
   "y": {"field": "top", "type": "quantitative", "scale": {"domain": [0, 31.36], "nice": false, "zero": false}, "axis": null},
   "y2": {"field": "bot"}
  }},
 {"data": {"name": "arrows"}, "mark": {"type": "point", "shape": "triangle-down", "filled": true, "color": "#555555", "size": 22, "opacity": 1},
  "encoding": {
   "x": {"field": "age", "type": "quantitative"},
   "y": {"field": "bot", "type": "quantitative", "scale": {"domain": [0, 31.36], "nice": false, "zero": false}, "axis": null}
  }},
 {"data": {"name": "arrows"}, "mark": {"type": "text", "fontSize": 18, "align": "center", "baseline": "middle"},
  "encoding": {
   "x": {"field": "age", "type": "quantitative"},
   "y": {"field": "ly", "type": "quantitative", "scale": {"domain": [0, 31.36], "nice": false, "zero": false}, "axis": null},
   "text": {"field": "t"}
  }},
 {"data": {"name": "panelB"}, "mark": {"type": "text", "fontSize": 34, "align": "center", "baseline": "middle"},
  "encoding": {
   "x": {"field": "age", "type": "quantitative"},
   "y": {"field": "n", "type": "quantitative", "scale": {"domain": [0, 31.36], "nice": false, "zero": false}, "axis": null},
   "text": {"field": "t"}
  }},
 {"data": {"name": "mis"}, "mark": {"type": "rect", "fill": "white"},
  "encoding": {
   "x": {"field": "age", "type": "quantitative"},
   "x2": {"field": "age2"},
   "y": {"datum": 29.73, "type": "quantitative", "scale": {"domain": [0, 31.36], "nice": false, "zero": false}, "axis": null},
   "y2": {"datum": 31.36}
  }},
 {"data": {"name": "mis"}, "mark": {"type": "rule", "color": "#8a8a8a", "strokeWidth": 1.2},
  "encoding": {
   "x": {"datum": 0, "type": "quantitative"},
   "x2": {"datum": 74.05},
   "y": {"datum": 29.73, "type": "quantitative", "scale": {"domain": [0, 31.36], "nice": false, "zero": false}, "axis": null}
  }},
 {"data": {"name": "mis"}, "transform": [{"filter": "datum.age > 0"}],
  "mark": {"type": "rule", "color": "#8a8a8a", "strokeWidth": 1.2},
  "encoding": {
   "x": {"field": "age", "type": "quantitative"},
   "y": {"datum": 29.73, "type": "quantitative", "scale": {"domain": [0, 31.36], "nice": false, "zero": false}, "axis": null},
   "y2": {"datum": 31.36}
  }},
 {"data": {"name": "mis"}, "mark": {"type": "text", "font": "Open Sans", "fontSize": 19, "align": "center", "baseline": "middle", "color": "#222"},
  "encoding": {
   "x": {"field": "mid", "type": "quantitative"},
   "y": {"datum": 30.55, "type": "quantitative", "scale": {"domain": [0, 31.36], "nice": false, "zero": false}, "axis": null},
   "text": {"field": "label"}
  }}
],
"resolve": {"scale": {"y": "independent"}, "axis": {"y": "independent"}}
}
